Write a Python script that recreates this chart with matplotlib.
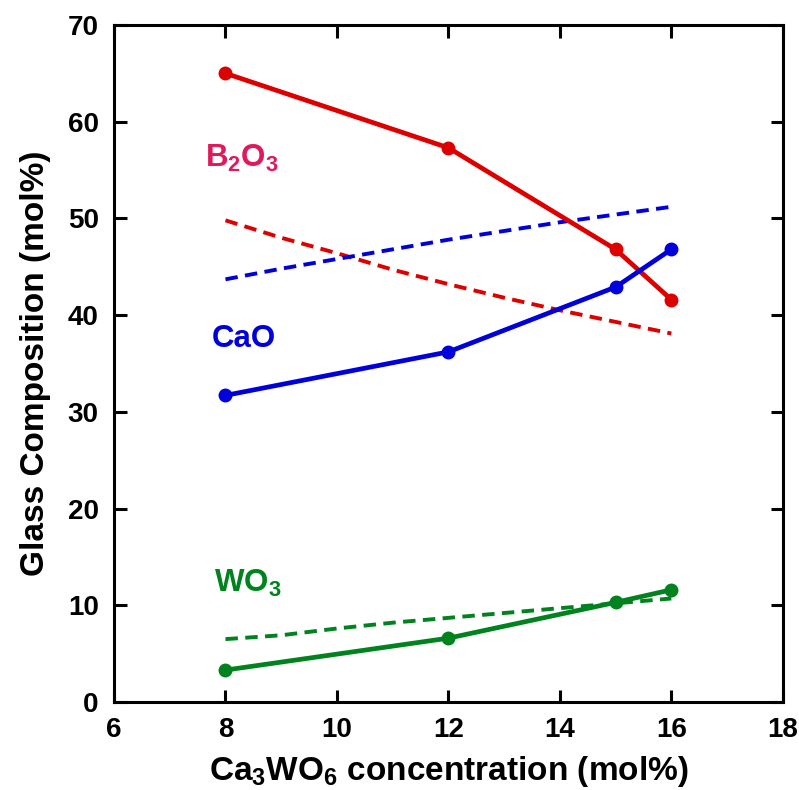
import matplotlib
matplotlib.use("Agg")
import matplotlib.pyplot as plt

plt.rcParams['font.family'] = ['Liberation Sans', 'DejaVu Sans']
plt.rcParams['font.weight'] = 'bold'
plt.rcParams['mathtext.fontset'] = 'custom'
plt.rcParams['mathtext.rm'] = 'Liberation Sans:bold'
plt.rcParams['mathtext.bf'] = 'Liberation Sans:bold'

# measured compositions
x_meas = [8, 12, 15, 16]
b2o3_meas = [65.0, 57.3, 46.8, 41.6]
cao_meas = [31.7, 36.2, 42.9, 46.8]
wo3_meas = [3.3, 6.6, 10.3, 11.6]

# nominal compositions (dashed)
x_nom = [8, 9, 10, 11, 12, 13, 14, 15, 16]
b2o3_nom = [49.8, 48.0, 46.4, 44.7, 43.2, 41.8, 40.5, 39.3, 38.1]
cao_nom = [43.7, 44.8, 45.8, 46.8, 47.8, 48.7, 49.6, 50.4, 51.2]
wo3_nom = [6.5, 6.9, 7.6, 8.2, 8.7, 9.2, 9.7, 10.2, 10.7]

xticks = [6, 8, 10, 12, 14, 16, 18]
yticks = [0, 10, 20, 30, 40, 50, 60, 70]

red = '#dd0000'
blue = '#0000dd'
green = '#00821e'
label_red = '#e0195a'

fig = plt.figure(figsize=(7.99, 7.90), dpi=100)
ax = fig.add_axes([0.1427, 0.1114, 0.837, 0.857])

for y, c in [(b2o3_nom, red), (cao_nom, blue), (wo3_nom, green)]:
    ax.plot(x_nom, y, color=c, lw=2.8, ls=(0, (3.2, 1.9)))
for y, c in [(b2o3_meas, red), (cao_meas, blue), (wo3_meas, green)]:
    ax.plot(x_meas, y, color=c, lw=3.4, marker='o', ms=9)

ax.text(7.63, 55.3, r'B$_{\mathregular{2}}$O$_{\mathregular{3}}$', color=label_red,
        fontsize=22.5, fontweight='bold', va='baseline', ha='left')
ax.text(7.76, 36.7, 'CaO', color=blue, fontsize=22.5, fontweight='bold', va='baseline', ha='left')
ax.text(7.79, 11.4, r'WO$_{\mathregular{3}}$', color=green, fontsize=22.5, fontweight='bold',
        va='baseline', ha='left')

ax.set_xlim(6, 18)
ax.set_ylim(0, 70)
ax.set_xticks(xticks)
ax.set_yticks(yticks)
ax.tick_params(direction='in', length=9, width=2.2, labelsize=20, pad=11,
               top=True, right=True)
for lab in ax.get_xticklabels() + ax.get_yticklabels():
    lab.set_fontweight('bold')
for s in ax.spines.values():
    s.set_linewidth(2.2)

ax.set_xlabel(r'Ca$_{\mathregular{3}}$WO$_{\mathregular{6}}$ concentration (mol%)',
              fontsize=24, fontweight='bold', labelpad=8)
ax.set_ylabel('Glass Composition (mol%)', fontsize=24, fontweight='bold', labelpad=12)

fig.savefig('out.png', dpi=100)
